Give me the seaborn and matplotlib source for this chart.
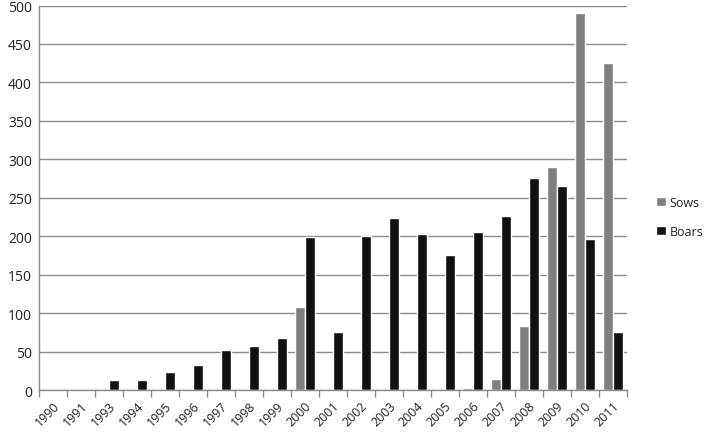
import matplotlib
matplotlib.use("Agg")
import matplotlib.pyplot as plt
import seaborn as sns
import pandas as pd
import numpy as np

years = ["1990", "1991", "1993", "1994", "1995", "1996", "1997", "1998", "1999", "2000",
         "2001", "2002", "2003", "2004", "2005", "2006", "2007", "2008", "2009", "2010", "2011"]
sows = [0, 0, 0, 0, 0, 0, 0, 0, 0, 108, 0, 0, 0, 0, 0, 3, 15, 83, 290, 490, 425]
boars = [0, 0, 13, 13, 24, 33, 52, 57, 68, 199, 75, 200, 224, 203, 175, 205, 226, 276, 265, 196, 75]
y_ticks = [0, 50, 100, 150, 200, 250, 300, 350, 400, 450, 500]

df = pd.DataFrame({
    "Year": years * 2,
    "Value": sows + boars,
    "Series": ["Sows"] * len(years) + ["Boars"] * len(years),
})

sns.set_theme(style="white")
plt.rcParams["font.family"] = ["Open Sans", "DejaVu Sans"]

fig = plt.figure(figsize=(7.1, 4.35), dpi=100)
ax = fig.add_axes([0.055, 0.101, 0.828, 0.884])

sns.barplot(data=df, x="Year", y="Value", hue="Series", order=years,
            hue_order=["Sows", "Boars"], palette={"Sows": "#808080", "Boars": "#111111"},
            width=0.74, saturation=1, ax=ax, legend=True)

ax.set_ylim(0, 500)
ax.set_xlim(-0.5, len(years) - 0.5)
ax.set_yticks(y_ticks)
ax.set_yticklabels([str(v) for v in y_ticks], fontsize=10, color="#222222")
ax.yaxis.grid(True, color="#8c8c8c", linewidth=1)
ax.set_axisbelow(True)
ax.set_xlabel("")
ax.set_ylabel("")

ax.set_xticks(range(len(years)))
ax.set_xticklabels(years, rotation=45, ha="right", rotation_mode="anchor", fontsize=9, color="#222222")
ax.tick_params(axis="x", which="major", length=0, pad=6)
ax.set_xticks(np.arange(-0.5, len(years), 1.0), minor=True)
ax.tick_params(axis="x", which="minor", length=5, color="#8c8c8c", width=1, bottom=True)
ax.tick_params(axis="y", length=0, pad=5)

for side in ["top", "right"]:
    ax.spines[side].set_visible(False)
for side in ["left", "bottom"]:
    ax.spines[side].set_color("#8c8c8c")
    ax.spines[side].set_linewidth(1)

leg = ax.legend(loc="center left", bbox_to_anchor=(1.05, 0.45), frameon=False,
                fontsize=9, handlelength=0.75, handleheight=0.75, labelspacing=1.3,
                handletextpad=0.3, borderpad=0, borderaxespad=0)
for t in leg.get_texts():
    t.set_color("#222222")

fig.savefig("out.png", dpi=100)
